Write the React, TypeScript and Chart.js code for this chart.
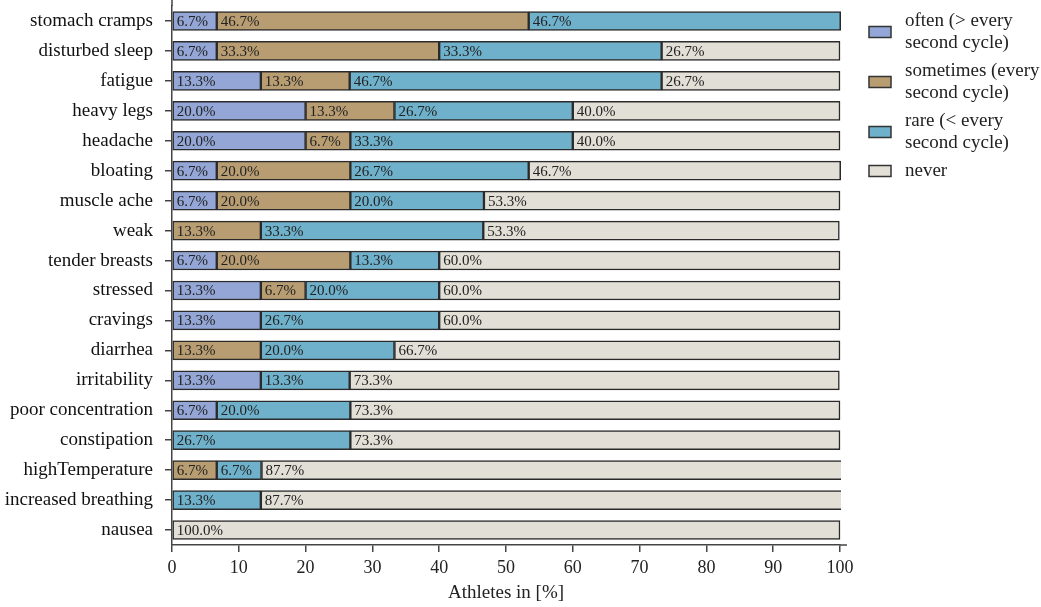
import { useEffect, useRef } from 'react';
import Chart from 'chart.js/auto';

// ============= DATA =============
const symptoms = [
    'stomach cramps', 'disturbed sleep', 'fatigue', 'heavy legs', 'headache', 'bloating',
    'muscle ache', 'weak', 'tender breasts', 'stressed', 'cravings', 'diarrhea',
    'irritability', 'poor concentration', 'constipation', 'highTemperature',
    'increased breathing', 'nausea',
];

const often = [6.7, 6.7, 13.3, 20.0, 20.0, 6.7, 6.7, 0, 6.7, 13.3, 13.3, 0, 13.3, 6.7, 0, 0, 0, 0];
const sometimes = [46.7, 33.3, 13.3, 13.3, 6.7, 20.0, 20.0, 13.3, 20.0, 6.7, 0, 13.3, 0, 0, 0, 6.7, 0, 0];
const rare = [46.7, 33.3, 46.7, 26.7, 33.3, 26.7, 20.0, 33.3, 13.3, 20.0, 26.7, 20.0, 13.3, 20.0, 26.7, 6.7, 13.3, 0];
const never = [0, 26.7, 26.7, 40.0, 40.0, 46.7, 53.3, 53.3, 60.0, 60.0, 60.0, 66.7, 73.3, 73.3, 73.3, 87.7, 87.7, 100.0];

const seriesNames = [
    ['often (> every', 'second cycle)'],
    ['sometimes (every', 'second cycle)'],
    ['rare (< every', 'second cycle)'],
    ['never'],
];
const seriesColors = ['#93a6d6', '#b99d72', '#6fb1cb', '#e2dfd6'];

const FONT = "'Liberation Serif', 'Times New Roman', serif";

// ============= PLUGINS =============
// value labels at the start of each segment
const segmentLabels = {
    id: 'segmentLabels',
    afterDatasetsDraw(chart: any) {
        const ctx = chart.ctx;
        ctx.save();
        ctx.font = `15px ${FONT}`;
        ctx.fillStyle = '#222';
        ctx.textBaseline = 'middle';
        ctx.textAlign = 'left';
        chart.data.datasets.forEach((ds: any, i: number) => {
            const meta = chart.getDatasetMeta(i);
            meta.data.forEach((bar: any, j: number) => {
                const v = ds.data[j];
                if (!v) return;
                const start = Math.min(bar.x, bar.base);
                ctx.fillText(v.toFixed(1) + '%', start + 4, bar.y + 1);
            });
        });
        ctx.restore();
    },
};

// axis lines run a little past the plot area, like the original
const axisOverhang = {
    id: 'axisOverhang',
    afterDraw(chart: any) {
        const { ctx, chartArea } = chart;
        ctx.save();
        ctx.strokeStyle = '#444';
        ctx.lineWidth = 1.5;
        ctx.beginPath();
        ctx.moveTo(chartArea.right, chartArea.bottom);
        ctx.lineTo(chartArea.right + 7, chartArea.bottom);
        ctx.moveTo(chartArea.left, chartArea.top);
        ctx.lineTo(chartArea.left, 0);
        ctx.stroke();
        ctx.restore();
    },
};

// legend on the right with wrapped labels
const sideLegend = {
    id: 'sideLegend',
    afterDraw(chart: any) {
        const ctx = chart.ctx;
        const boxX = 869;
        const textX = 905;
        const lineH = 22;
        let y = 21;
        ctx.save();
        ctx.font = `19px ${FONT}`;
        ctx.textBaseline = 'middle';
        ctx.textAlign = 'left';
        seriesNames.forEach((lines, i) => {
            const mid = y + ((lines.length - 1) * lineH) / 2;
            ctx.fillStyle = seriesColors[i];
            ctx.fillRect(boxX, mid - 5.5, 22, 11);
            ctx.strokeStyle = '#333';
            ctx.lineWidth = 1.5;
            ctx.strokeRect(boxX, mid - 5.5, 22, 11);
            ctx.fillStyle = '#222';
            lines.forEach((t, k) => ctx.fillText(t, textX, y + k * lineH));
            y += (lines.length - 1) * lineH + 28;
        });
        ctx.restore();
    },
};

// ============= CHART =============
const SymptomChart = () => {
    const chartRef = useRef<HTMLCanvasElement>(null);
    const chartInstance = useRef<Chart | null>(null);

    useEffect(() => {
        document.body.style.margin = '0';
        if (!chartRef.current) return;
        if (chartInstance.current) chartInstance.current.destroy();
        const ctx = chartRef.current.getContext('2d');
        if (!ctx) return;

        const values = [often, sometimes, rare, never];

        chartInstance.current = new Chart(ctx, {
            type: 'bar',
            data: {
                labels: symptoms,
                datasets: values.map((d, i) => ({
                    label: seriesNames[i].join(' '),
                    data: d,
                    backgroundColor: seriesColors[i],
                    borderColor: '#2a2a2a',
                    borderWidth: 1.5,
                    borderSkipped: false,
                    barThickness: 19,
                    clip: { left: false, top: false, bottom: false, right: 1 },
                })),
            },
            options: {
                indexAxis: 'y',
                responsive: true,
                maintainAspectRatio: false,
                animation: false,
                layout: { autoPadding: false, padding: { top: 6, right: 201, left: 0, bottom: 0 } },
                plugins: {
                    legend: { display: false },
                    tooltip: { enabled: false },
                },
                scales: {
                    x: {
                        stacked: true,
                        min: 0,
                        max: 100,
                        afterFit: (scale: any) => { scale.height = 62; },
                        ticks: { stepSize: 10, font: { size: 18, family: FONT }, color: '#222', padding: 5 },
                        grid: { drawOnChartArea: false, drawTicks: true, tickLength: 7, color: '#444', lineWidth: 1.5 },
                        border: { display: true, color: '#444', width: 1.5 },
                        title: {
                            display: true,
                            text: 'Athletes in [%]',
                            font: { size: 19, family: FONT },
                            color: '#222',
                            padding: { top: 0, bottom: 3 },
                        },
                    },
                    y: {
                        stacked: true,
                        afterFit: (scale: any) => {
                            scale.width = 172;
                            scale.paddingTop = 0;
                            scale.paddingBottom = 0;
                        },
                        ticks: { font: { size: 19, family: FONT }, color: '#111', padding: 12, autoSkip: false },
                        grid: { offset: false, drawOnChartArea: false, drawTicks: true, tickLength: 7, color: '#444', lineWidth: 1.5 },
                        border: { display: true, color: '#444', width: 1.5 },
                    },
                },
            },
            plugins: [segmentLabels, axisOverhang, sideLegend],
        });

        return () => {
            if (chartInstance.current) {
                chartInstance.current.destroy();
                chartInstance.current = null;
            }
        };
    }, []);

    return (
        <div style={{ position: 'relative', width: 1041, height: 607, background: '#fff' }}>
            <canvas ref={chartRef}></canvas>
        </div>
    );
};

export default function App() {
    return <SymptomChart />;
}
